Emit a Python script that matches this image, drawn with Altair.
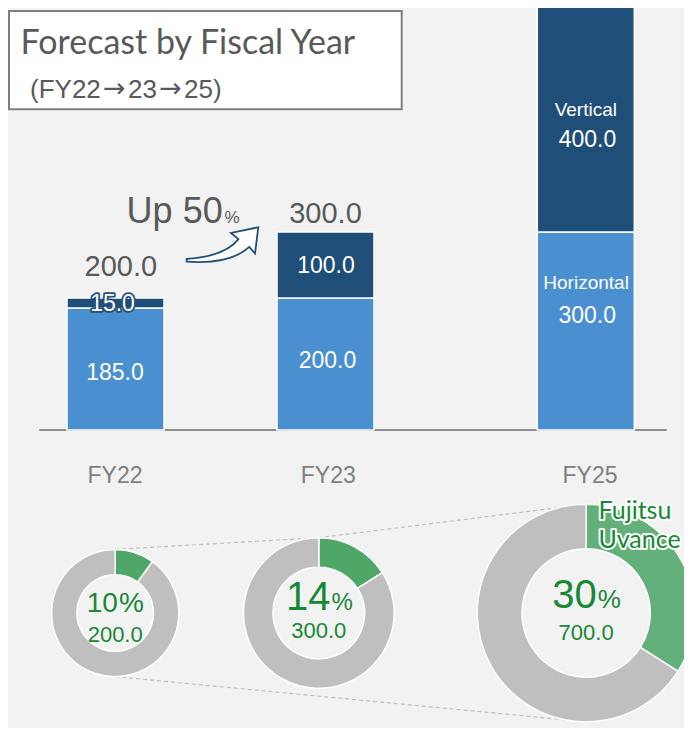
import altair as alt
import pandas as pd

# ---------------- data ----------------
years = ["FY22", "FY23", "FY25"]
segment_names = ["Horizontal", "Vertical"]
horizontal = [185.0, 200.0, 300.0]
vertical = [15.0, 100.0, 400.0]
totals = [200.0, 300.0, 700.0]
uvance_pct = [10, 14, 30]        # printed shares
uvance_slice = [10, 16, 34]      # slice shares as drawn
title_text = "Forecast by Fiscal Year"
subtitle_text = "(FY22\u219223\u219225)"
growth_text = "Up 50"
legend_lines = ["Fujitsu", "Uvance"]

# ---------------- layout (page pixels) ----------------
W, H = 676, 720
ORIGIN = 8
BASE_PY = 430.0
PX_PER_UNIT = 0.66
SLOT1_PX, SLOT_PX = 115.5, 209.5
bar_center_px = [115.5, 325.5, 585.8]
BAR_W = 97
donut_cx = [115.2, 318.8, 586.1]
DONUT_CY = 613.0
donut_r = [63.6, 75.3, 108.8]
donut_ir = [38.3, 45.8, 64.2]

LIGHT, DARK = "#4A8FD0", "#1F4E79"
GREENS = ["#4EA767", "#4EA767", "#63B07A"]
GREY_SLICE = "#BFBFBF"
TXT_GREY, AXIS_GREY, TXT_GREEN = "#595959", "#7F7F7F", "#178836"
NUM_FONT, TITLE_FONT, ARROW_FONT = "Liberation Sans", "Lato", "DejaVu Sans"


def sx(px):
    return 1 + (px - SLOT1_PX) / SLOT_PX


def vy(py):
    return (BASE_PY - py) / PX_PER_UNIT


x_scale = alt.Scale(domain=[sx(ORIGIN), sx(ORIGIN + W)], nice=False, zero=False, padding=0)
y_scale = alt.Scale(domain=[vy(ORIGIN + H), vy(ORIGIN)], nice=False, zero=False, padding=0)


def X(f):
    return alt.X(f + ":Q", scale=x_scale, axis=None)


def Y(f):
    return alt.Y(f + ":Q", scale=y_scale, axis=None)


slots = [sx(p) for p in bar_center_px]

# ---------------- bars ----------------
bar_rows = []
for i, yr in enumerate(years):
    bar_rows.append({"year": yr, "slot": slots[i], "segment": "Horizontal", "value": horizontal[i], "ord": 0})
    bar_rows.append({"year": yr, "slot": slots[i], "segment": "Vertical", "value": vertical[i], "ord": 1})
bars_df = pd.DataFrame(bar_rows)

bars = alt.Chart(bars_df).transform_stack(
    stack="value", groupby=["year"], as_=["v0", "v1"], sort=[alt.SortField("ord")]
).mark_bar(size=BAR_W, stroke="white", strokeWidth=1.5, clip=True).encode(
    x=X("slot"), y=Y("v0"), y2="v1",
    color=alt.Color("segment:N", scale=alt.Scale(domain=segment_names, range=[LIGHT, DARK]), legend=None),
)

baseline = alt.Chart(pd.DataFrame({"v": [0]})).mark_rule(color="#8C8C8C", strokeWidth=2).encode(
    x=alt.value(31.3), x2=alt.value(658.7), y=Y("v")
)

# ---------------- labels ----------------
labels = []


def add(text, x_px, y_val, grp):
    labels.append({"text": text, "x": sx(x_px), "y": y_val, "grp": grp})


# totals above FY22 / FY23
total_dx = [5.3, 0.0]
total_dy = [-22.0, -9.3]
for i in range(2):
    add(f"{totals[i]:.1f}", bar_center_px[i] + total_dx[i], totals[i] - total_dy[i] / PX_PER_UNIT, "total")

# values inside the segments (dy = baseline offset from segment middle, px)
val_dx = [[-0.5, -3.0], [2.0, 0.5], [1.4, 1.7]]
val_dy = [[11.0, 7.75], [4.3, 7.7], [-8.3, 46.7]]
name_dx = [0.3, 0.0]
name_dy = [-41.7, 16.0]
for i in range(3):
    segs = [horizontal[i], vertical[i]]
    starts = [0.0, horizontal[i]]
    for j in range(2):
        mid = starts[j] + segs[j] / 2
        grp = "halo" if (i == 0 and j == 1) else "inner"
        add(f"{segs[j]:.1f}", bar_center_px[i] + val_dx[i][j], mid - val_dy[i][j] / PX_PER_UNIT, grp)
        if i == 2:
            add(segment_names[j], bar_center_px[i] + name_dx[j], mid - name_dy[j] / PX_PER_UNIT, "name")

# category labels
axis_dx = [-0.5, 2.8, 4.2]
for i, yr in enumerate(years):
    add(yr, bar_center_px[i] + axis_dx[i], vy(483.3), "axis")

# donut centre labels
split_dx = [2.7, 11.7, 10.7]
pct_base = [611.7, 610.0, 608.3]
val_base = [641.7, 638.3, 640.0]
for i in range(3):
    add(str(uvance_pct[i]), donut_cx[i] + split_dx[i], vy(pct_base[i]), f"pnum{i}")
    add("%", donut_cx[i] + split_dx[i] + 1.0, vy(pct_base[i]), f"psym{i}")
    add(f"{totals[i]:.1f}", donut_cx[i], vy(val_base[i]), "dval")

add(legend_lines[0], 598.5, vy(519.3), "legend")
add(legend_lines[1], 598.5, vy(548.3), "legend")

add(title_text, 20.5, vy(53.8), "title")

# subtitle drawn in pieces so the arrows get a proper glyph
sub_parts = subtitle_text.split("\u2192")
sub_left = [30.0, 128.0, 184.1]
arrow_mid = [114.4, 170.5]
for k, part in enumerate(sub_parts):
    add(part, sub_left[k], vy(98.3), "subtitle")
for k in range(len(sub_parts) - 1):
    add("\u2192", arrow_mid[k], vy(97.0), "subarrow")

add(growth_text, 222.7, vy(223.3), "up")
add("%", 224.5, vy(223.3), "upsym")

lab_df = pd.DataFrame(labels)


def tl(grp, **mark):
    return alt.Chart(lab_df).transform_filter(alt.datum.grp == grp).mark_text(**mark).encode(
        x=X("x"), y=Y("y"), text="text:N"
    )


text_layers = [
    tl("total", font=NUM_FONT, fontSize=29, color=TXT_GREY, align="center", baseline="alphabetic"),
    tl("inner", font=NUM_FONT, fontSize=23, color="white", align="center", baseline="alphabetic"),
    tl("halo", font=NUM_FONT, fontSize=23, color=DARK, stroke=DARK, strokeWidth=3.5, strokeJoin="round",
       align="center", baseline="alphabetic"),
    tl("halo", font=NUM_FONT, fontSize=23, color="white", align="center", baseline="alphabetic"),
    tl("name", font=NUM_FONT, fontSize=19, color="white", align="center", baseline="alphabetic"),
    tl("axis", font=NUM_FONT, fontSize=23, color=AXIS_GREY, align="center", baseline="alphabetic"),
    tl("dval", font=NUM_FONT, fontSize=22, color=TXT_GREEN, align="center", baseline="alphabetic"),
    tl("legend", font=TITLE_FONT, fontSize=25, color="white", stroke="white", strokeWidth=4,
       strokeJoin="round", align="left", baseline="alphabetic"),
    tl("legend", font=TITLE_FONT, fontSize=25, color=TXT_GREEN, align="left", baseline="alphabetic"),
    tl("title", font=TITLE_FONT, fontSize=34, color=TXT_GREY, align="left", baseline="alphabetic"),
    tl("subtitle", font=NUM_FONT, fontSize=26, color=TXT_GREY, align="left", baseline="alphabetic"),
    tl("subarrow", font=ARROW_FONT, fontSize=27, color=TXT_GREY, align="center", baseline="alphabetic"),
    tl("up", font=NUM_FONT, fontSize=36, color=TXT_GREY, align="right", baseline="alphabetic"),
    tl("upsym", font=NUM_FONT, fontSize=17, color=TXT_GREY, align="left", baseline="alphabetic"),
]
num_sizes = [28, 40, 40]
sym_sizes = [28, 24, 26]
for i in range(3):
    text_layers.append(tl(f"pnum{i}", font=NUM_FONT, fontSize=num_sizes[i], color=TXT_GREEN,
                          align="right", baseline="alphabetic"))
    text_layers.append(tl(f"psym{i}", font=NUM_FONT, fontSize=sym_sizes[i], color=TXT_GREEN,
                          align="left", baseline="alphabetic"))

# ---------------- title box ----------------
title_box = alt.Chart(pd.DataFrame({"a": [0]})).mark_rect(
    fill="white", stroke="#7F7F7F", strokeWidth=2
).encode(x=alt.value(1), x2=alt.value(393.7), y=alt.value(3), y2=alt.value(101.3))

# ---------------- arrow ----------------
ARROW_CX, ARROW_CY, ARROW_SPAN = 222.5, 244.5, 72
arrow_path = ("M -0.994 0.400 Q 0.069 0.330 0.442 -0.150 L 0.236 -0.320 L 0.994 -0.478 "
              "L 0.903 0.250 L 0.744 0.068 Q 0.208 0.560 -0.994 0.478 Z")
arrow = alt.Chart(pd.DataFrame({"x": [sx(ARROW_CX)], "y": [vy(ARROW_CY)]})).mark_point(
    shape=arrow_path, size=ARROW_SPAN ** 2, filled=True, fill="white", stroke=DARK,
    strokeWidth=1.8, opacity=1, fillOpacity=1, strokeOpacity=1
).encode(x=X("x"), y=Y("y"))

# ---------------- donuts ----------------
d_rows = []
for i, yr in enumerate(years):
    d_rows.append({"year": yr, "part": "Uvance", "share": uvance_slice[i], "ord": 0,
                   "cx": sx(donut_cx[i]), "cy": vy(DONUT_CY)})
    d_rows.append({"year": yr, "part": "Other", "share": 100 - uvance_slice[i], "ord": 1,
                   "cx": sx(donut_cx[i]), "cy": vy(DONUT_CY)})
donut_df = pd.DataFrame(d_rows)

donut_layers = []
for i, yr in enumerate(years):
    donut_layers.append(
        alt.Chart(donut_df).transform_filter(alt.datum.year == yr).transform_stack(
            stack="share", groupby=["year"], as_=["t0", "t1"], sort=[alt.SortField("ord")]
        ).mark_arc(radius=donut_r[i], innerRadius=donut_ir[i], stroke="white", strokeWidth=1.5).encode(
            x=X("cx"), y=Y("cy"),
            theta=alt.Theta("t0:Q", scale=alt.Scale(domain=[0, 100])), theta2="t1",
            color=alt.condition(alt.datum.part == "Uvance", alt.value(GREENS[i]), alt.value(GREY_SLICE)),
        )
    )

# connector dashed lines (tangent to donut tops / bottoms)
c_rows = []
for i in range(3):
    c_rows.append({"seg": "top", "k": i, "x": sx(donut_cx[i]), "y": vy(DONUT_CY - donut_r[i])})
for i in (0, 2):
    c_rows.append({"seg": "bottom", "k": i, "x": sx(donut_cx[i]), "y": vy(DONUT_CY + donut_r[i])})
conn = alt.Chart(pd.DataFrame(c_rows)).mark_line(
    color="#BFBFBF", strokeWidth=1.2, strokeDash=[4, 3]
).encode(x=X("x"), y=Y("y"), detail="seg:N", order="k:Q")

chart = alt.layer(
    title_box, baseline, bars, arrow, conn, *donut_layers, *text_layers
).properties(
    width=W, height=H, padding=0, autosize=alt.AutoSizeParams(type="none"), background="#F2F2F2"
).configure_view(stroke=None)

chart.save("out.html", embed_options={"renderer": "svg", "actions": False})
